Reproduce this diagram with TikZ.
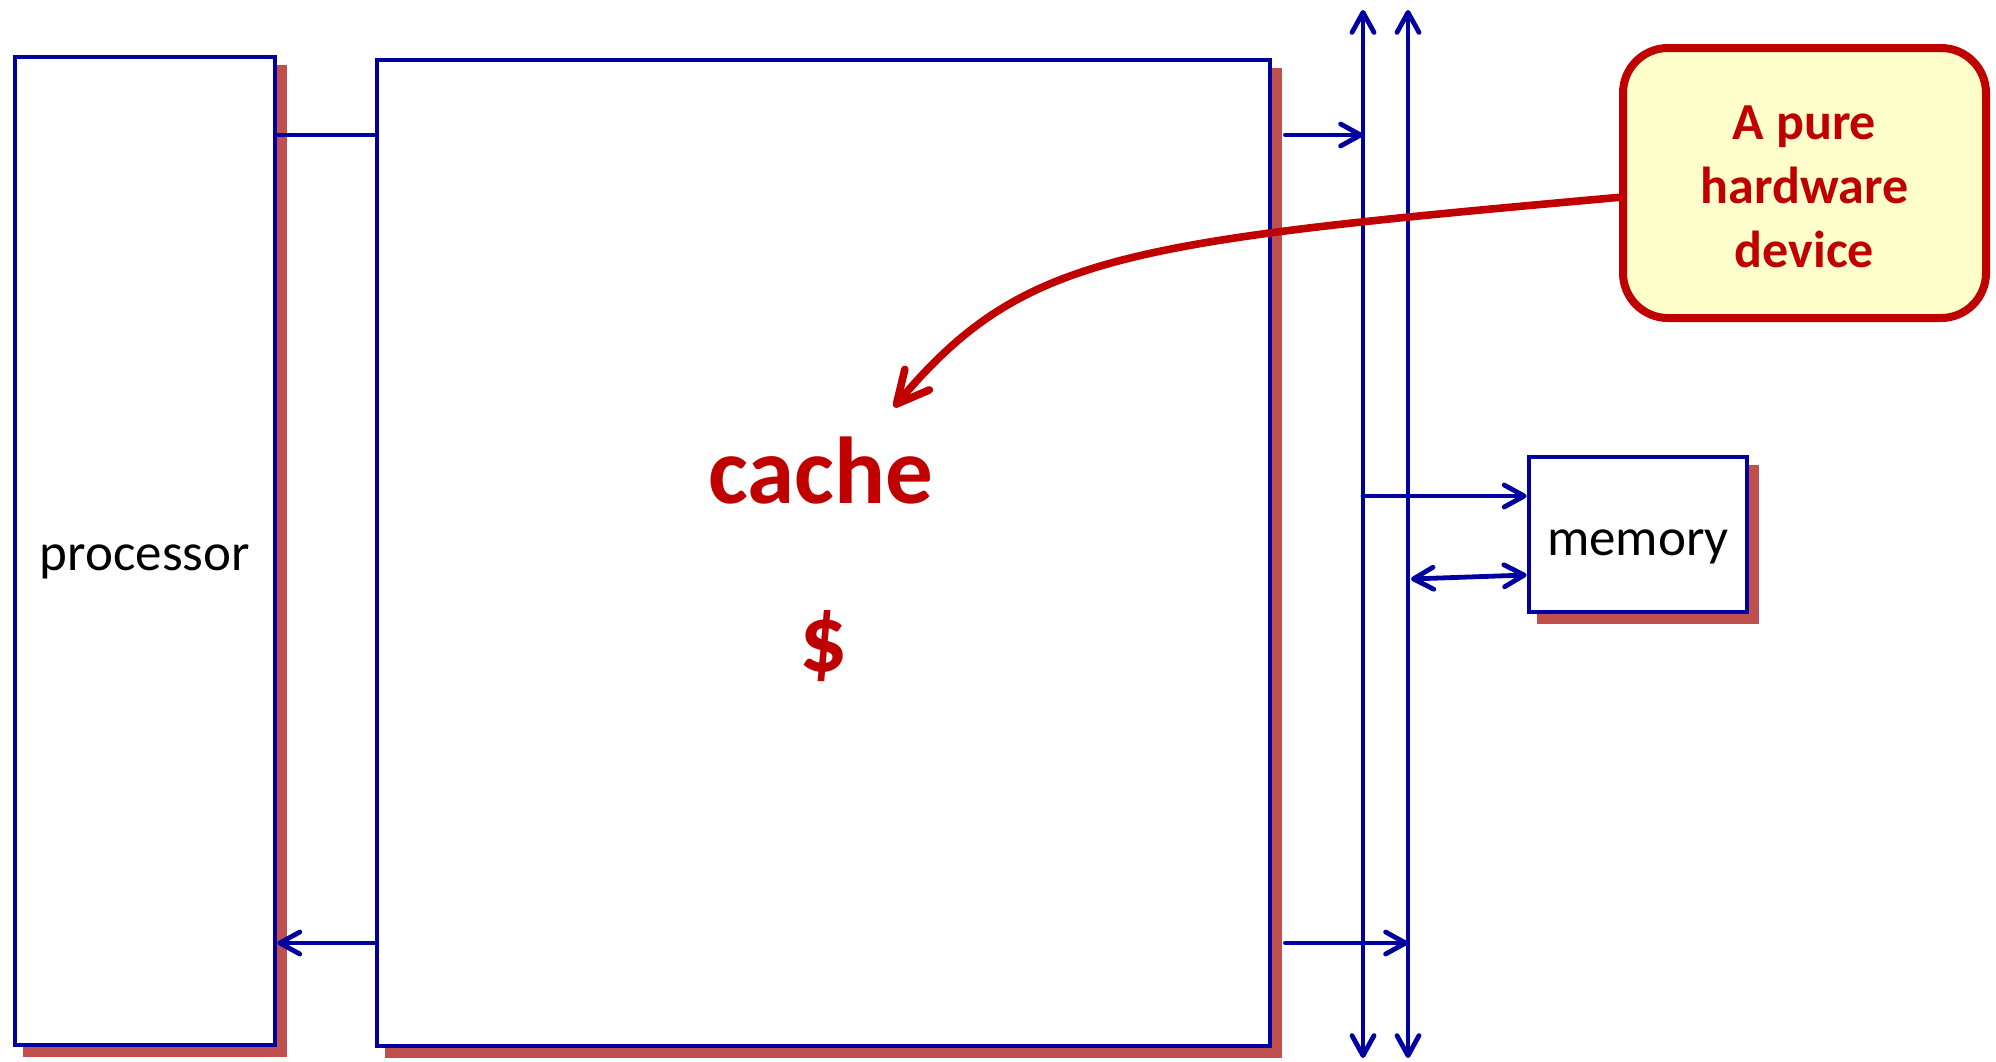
\documentclass[tikz,border=0pt]{standalone}
\usepackage{fontspec}
\setmainfont{Carlito}
\usetikzlibrary{arrows.meta,shadows,calc}
\definecolor{bblue}{HTML}{0000A0}
\definecolor{dred}{HTML}{C00000}
\definecolor{shred}{HTML}{C0504D}
\definecolor{cyell}{HTML}{FFFFCC}
\begin{document}
\begin{tikzpicture}[x=0.5pt,y=-0.5pt,
  box/.style={draw=bblue, line width=2.4pt, fill=white, rectangle, inner sep=0pt,
    drop shadow={shadow xshift=5pt, shadow yshift=-5pt, fill=shred, draw=shred, line width=2.4pt, opacity=1},
    font=\fontsize{26.5}{32}\selectfont, text=black, text depth=0pt},
  conn/.style={draw=bblue, line width=2.4pt, line cap=round},
  arr/.style={conn, -{Straight Barb[length=10pt,width=11pt,round]}},
  darr/.style={conn, {Straight Barb[length=10pt,width=11pt,round]}-{Straight Barb[length=10pt,width=11pt,round]}},
  big/.style={font=\fontsize{47.5}{57}\selectfont\bfseries, text=dred, inner sep=0pt},
  callbox/.style={draw=dred, fill=cyell, line width=4pt, rounded corners=22.5pt, inner sep=0pt},
  calltxt/.style={align=center, text=dred, inner sep=0pt, font=\fontsize{26}{32}\selectfont\bfseries},
  pointer/.style={draw=dred, line width=3.8pt, line cap=round, -{Straight Barb[length=16pt,width=16pt,round]}}
]
\useasboundingbox (0,0) rectangle (1996,1061);

% boxes
\node[box, minimum width=130pt, minimum height=494pt, text height=19.5pt] (proc) at (145,551) {processor};
\node[box, minimum width=446.5pt, minimum height=493pt] (cache) at (823.5,553) {};
\node[box, minimum width=109pt, minimum height=77.5pt, text height=21pt] (mem) at (1638,534.5) {memory};

\node[big] (cachelbl) at (821,471) {cache};
\node[big] (dollar) at (824,646) {\$};

% named coordinates
\coordinate (ytop) at (0,135);
\coordinate (ybot) at (0,943);
\coordinate (ymemA) at (0,496);
\coordinate (ymemB) at (0,579);
\coordinate (ymemC) at (0,575);
\coordinate (b1t) at (1363,10);
\coordinate (b1b) at (1363,1058);
\coordinate (b2t) at (1408,10);
\coordinate (b2b) at (1408,1058);
\coordinate (tip) at (894,407);

% buses
\draw[darr] (b1b) -- (b1t);
\draw[darr] (b2b) -- (b2t);

% connectors
\draw[conn] (proc.east |- ytop) -- (cache.west |- ytop);
\draw[arr] (cache.west |- ybot) -- (proc.east |- ybot);
\draw[arr] ($(cache.east |- ytop)+(13,0)$) -- (b1t |- ytop);
\draw[arr] ($(cache.east |- ybot)+(13,0)$) -- (b2t |- ybot);
\draw[arr] (b1t |- ymemA) -- (mem.west |- ymemA);
\draw[darr] ($(b2t |- ymemB)+(3,0)$) -- (mem.west |- ymemC);

% callout
\draw[pointer] (1623,197) .. controls (1121,242) and (1023,254) .. (tip);
\node[callbox, minimum width=181.5pt, minimum height=135pt] (callout) at (1804.5,183) {};
\node[calltxt] (calltext) at (1804.5,187) {A pure\\hardware\\device};
\end{tikzpicture}
\end{document}
